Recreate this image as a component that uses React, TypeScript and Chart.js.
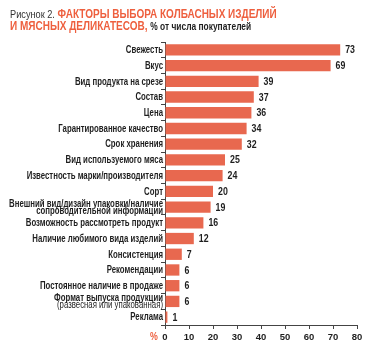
import React, { useEffect, useRef } from "react";
import { Chart, registerables } from "chart.js";

Chart.register(...registerables);

const categories: string[][] = [
  ["Свежесть"],
  ["Вкус"],
  ["Вид продукта на срезе"],
  ["Состав"],
  ["Цена"],
  ["Гарантированное качество"],
  ["Срок хранения"],
  ["Вид используемого мяса"],
  ["Известность марки/производителя"],
  ["Сорт"],
  ["Внешний вид/дизайн упаковки/наличие", "сопроводительной информации"],
  ["Возможность рассмотреть продукт"],
  ["Наличие любимого вида изделий"],
  ["Консистенция"],
  ["Рекомендации"],
  ["Постоянное наличие в продаже"],
  ["Формат выпуска продукции", "(развесная или упакованная)"],
  ["Реклама"],
];
const values = [73, 69, 39, 37, 36, 34, 32, 25, 24, 20, 19, 16, 12, 7, 6, 6, 6, 1];
const regularLine = "(развесная или упакованная)";
const xMin = 0;
const xMax = 80;
const xStep = 10;

const FONT = '"Liberation Sans", Arial, sans-serif';
const SQUEEZE = 0.8;
const LABEL_SQUEEZE = 0.78;
const BAR = "#e8684f";
const RED = "#ee5f3e";
const TEXT = "#1e1e1e";

function squeezedText(ctx: any, text: string, x: number, y: number, align: string, k = SQUEEZE) {
  ctx.save();
  ctx.translate(x, y);
  ctx.scale(k, 1);
  ctx.textAlign = align;
  ctx.fillText(text, 0, 0);
  ctx.restore();
}

export default function App() {
  const ref = useRef<HTMLCanvasElement>(null);
  useEffect(() => {
    const extras = {
      id: "extras",
      afterDraw(chart: any) {
        const ctx = chart.ctx;
        const meta = chart.getDatasetMeta(0);
        ctx.save();
        ctx.fillStyle = TEXT;
        ctx.textBaseline = "middle";
        ctx.font = `bold 11px ${FONT}`;
        meta.data.forEach((bar: any, i: number) => {
          squeezedText(ctx, String(values[i]), bar.x + 5, bar.y + 0.5, "left");
        });
        // category labels
        const ys = chart.scales.y;
        const lh = 7.6;
        categories.forEach((lines, i) => {
          const yc = ys.getPixelForValue(i);
          const y0 = yc - ((lines.length - 1) * lh) / 2 + 0.5;
          lines.forEach((ln, k) => {
            ctx.font = ln === regularLine ? `10px ${FONT}` : `bold 10px ${FONT}`;
            squeezedText(ctx, ln, ys.right - 2, y0 + k * lh, "right", LABEL_SQUEEZE);
          });
        });
        // percent sign
        const xs = chart.scales.x;
        ctx.fillStyle = RED;
        ctx.font = `bold 11px ${FONT}`;
        ctx.textBaseline = "top";
        squeezedText(ctx, "%", xs.left - 11, xs.top + 6, "center");
        ctx.restore();
      },
    };
    const chart = new Chart(ref.current!, {
      type: "bar",
      data: {
        labels: categories.map((c) => c.join(" ")),
        datasets: [
          {
            data: values,
            backgroundColor: BAR,
            borderWidth: 0,
            barPercentage: 0.72,
            categoryPercentage: 1,
          },
        ],
      },
      options: {
        indexAxis: "y",
        animation: false,
        responsive: false,
        maintainAspectRatio: false,
        layout: { padding: { left: 0, right: 15, top: 42, bottom: 10 } },
        plugins: { legend: { display: false }, tooltip: { enabled: false } },
        scales: {
          x: {
            min: xMin,
            max: xMax,
            ticks: {
              stepSize: xStep,
              color: TEXT,
              font: { family: FONT, size: 9.5, weight: "bold" },
              padding: 3,
            },
            grid: { drawOnChartArea: false, drawTicks: true, tickLength: 4, color: "#444" },
            border: { color: "#444", width: 1 },
            afterFit(scale: any) {
              scale.height = 20;
            },
          },
          y: {
            ticks: { display: false, autoSkip: false },
            grid: { drawOnChartArea: false, drawTicks: true, tickLength: 4, color: "#444", offset: true },
            border: { color: "#444", width: 1 },
            afterFit(scale: any) {
              scale.width = 165;
            },
          },
        },
      },
      plugins: [extras],
    });
    return () => chart.destroy();
  }, []);

  const line: React.CSSProperties = {
    position: "absolute",
    left: 0,
    whiteSpace: "nowrap",
    lineHeight: "12px",
  };
  return (
    <div style={{ position: "fixed", left: 0, top: 0, width: 372, height: 355, background: "#fff" }}>
      <canvas ref={ref} width={372} height={355} style={{ position: "absolute", left: 0, top: 0 }} />
      <div
        style={{
          position: "absolute",
          left: 10,
          top: 0,
          fontFamily: FONT,
          transform: `scaleX(${SQUEEZE})`,
          transformOrigin: "0 0",
          width: 400,
          height: 35,
        }}
      >
        <div style={{ ...line, top: 7 }}>
          <span style={{ fontSize: 11.5, color: "#333" }}>Рисунок 2. </span>
          <span style={{ fontSize: 12.5, color: RED, fontWeight: "bold" }}>ФАКТОРЫ ВЫБОРА КОЛБАСНЫХ ИЗДЕЛИЙ</span>
        </div>
        <div style={{ ...line, top: 18.5 }}>
          <span style={{ fontSize: 12.5, color: RED, fontWeight: "bold" }}>И МЯСНЫХ ДЕЛИКАТЕСОВ, </span>
          <span style={{ fontSize: 10.5, color: TEXT, fontWeight: "bold" }}>% от числа покупателей</span>
        </div>
      </div>
    </div>
  );
}
